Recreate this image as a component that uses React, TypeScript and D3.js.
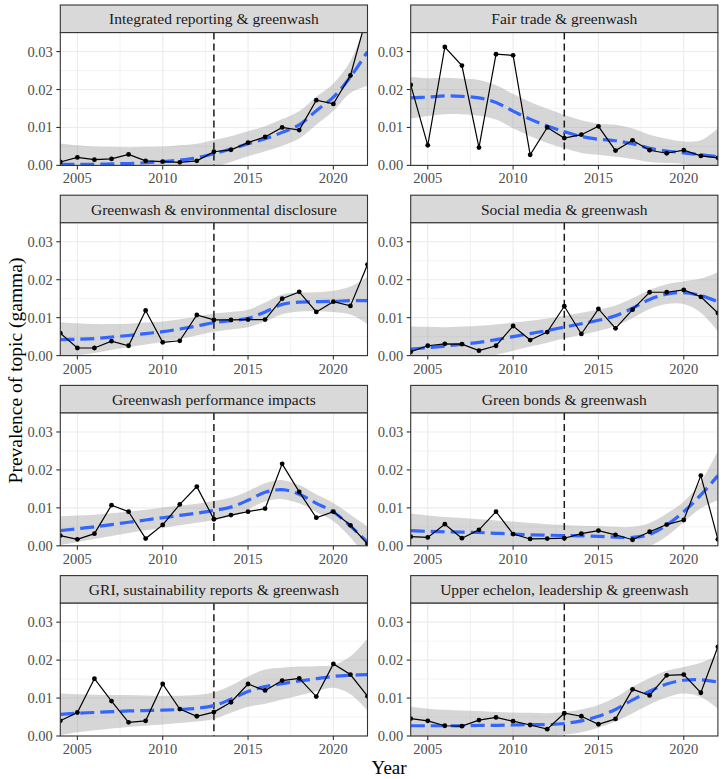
import * as d3 from 'd3'

// Topic prevalence per year (gamma), the loess fit and its standard-error half width
const years = [2004, 2005, 2006, 2007, 2008, 2009, 2010, 2011, 2012, 2013, 2014, 2015, 2016, 2017, 2018, 2019, 2020, 2021, 2022]

const integratedValues = [0.0009, 0.0021, 0.0015, 0.0017, 0.0029, 0.0012, 0.001, 0.0008, 0.0012, 0.0036, 0.0041, 0.006, 0.0075, 0.01, 0.0093, 0.0172, 0.0162, 0.0237, 0.04]
const integratedFit = [0.0003, 0.0003, 0.0003, 0.0004, 0.0005, 0.0007, 0.001, 0.0014, 0.002, 0.0031, 0.0043, 0.0057, 0.007, 0.0087, 0.0107, 0.0144, 0.018, 0.0233, 0.03]
const integratedSe = [0.0055, 0.005, 0.0047, 0.0045, 0.0043, 0.0042, 0.004, 0.0039, 0.0037, 0.0036, 0.0034, 0.0033, 0.0033, 0.0035, 0.0036, 0.0037, 0.0036, 0.0042, 0.009]

const fairTradeValues = [0.0212, 0.0053, 0.0312, 0.0263, 0.0047, 0.0293, 0.029, 0.0028, 0.01, 0.0072, 0.0081, 0.0103, 0.0039, 0.0066, 0.004, 0.0032, 0.004, 0.0025, 0.002]
const fairTradeFit = [0.0178, 0.018, 0.0183, 0.0182, 0.0178, 0.0166, 0.0143, 0.0122, 0.0104, 0.0089, 0.0076, 0.0069, 0.0065, 0.0057, 0.0045, 0.0038, 0.0033, 0.0028, 0.0023]
const fairTradeSe = [0.0055, 0.005, 0.0048, 0.0047, 0.0047, 0.0045, 0.0045, 0.0045, 0.0045, 0.0044, 0.0043, 0.0041, 0.0042, 0.004, 0.0036, 0.0032, 0.003, 0.0038, 0.0075]

const disclosureValues = [0.0059, 0.002, 0.002, 0.0038, 0.0026, 0.0119, 0.0035, 0.0039, 0.0107, 0.0094, 0.0094, 0.0095, 0.0095, 0.015, 0.0168, 0.0115, 0.0142, 0.0131, 0.024]
const disclosureFit = [0.0042, 0.0043, 0.0045, 0.0049, 0.0053, 0.0058, 0.0063, 0.007, 0.0078, 0.0087, 0.0092, 0.0098, 0.0115, 0.0135, 0.0141, 0.0142, 0.0143, 0.0145, 0.0145]
const disclosureSe = [0.0046, 0.0042, 0.0038, 0.0034, 0.0031, 0.0029, 0.0027, 0.0026, 0.0025, 0.0024, 0.0023, 0.0023, 0.0025, 0.0026, 0.0025, 0.0025, 0.0028, 0.0037, 0.0062]

const socialValues = [0.001, 0.0026, 0.0031, 0.003, 0.0013, 0.0026, 0.0078, 0.0041, 0.0062, 0.013, 0.0057, 0.0123, 0.0072, 0.0121, 0.0167, 0.0167, 0.0173, 0.0155, 0.0112]
const socialFit = [0.0017, 0.0021, 0.0025, 0.003, 0.0035, 0.0042, 0.005, 0.0058, 0.0066, 0.0075, 0.0084, 0.0093, 0.0105, 0.0125, 0.0148, 0.0162, 0.0166, 0.0158, 0.0142]
const socialSe = [0.006, 0.0055, 0.005, 0.0047, 0.0044, 0.004, 0.0037, 0.0034, 0.0032, 0.003, 0.0029, 0.0028, 0.0027, 0.0026, 0.0025, 0.0026, 0.003, 0.0045, 0.0078]

const performanceValues = [0.0027, 0.0017, 0.0032, 0.0107, 0.009, 0.0019, 0.0055, 0.0109, 0.0156, 0.007, 0.0081, 0.009, 0.0098, 0.0216, 0.0142, 0.0074, 0.009, 0.0054, 0.0005]
const performanceFit = [0.004, 0.0045, 0.005, 0.0056, 0.0062, 0.0068, 0.0074, 0.008, 0.0086, 0.0093, 0.0102, 0.012, 0.0141, 0.0148, 0.0136, 0.0112, 0.0089, 0.0052, 0.0009]
const performanceSe = [0.0038, 0.0035, 0.0032, 0.003, 0.0028, 0.0027, 0.0027, 0.0026, 0.0025, 0.0025, 0.0025, 0.0024, 0.0024, 0.0025, 0.0024, 0.0023, 0.0024, 0.003, 0.0042]

const bondsValues = [0.0024, 0.0022, 0.0057, 0.002, 0.0042, 0.009, 0.0031, 0.0018, 0.0019, 0.002, 0.0032, 0.004, 0.0029, 0.0016, 0.0037, 0.0056, 0.0068, 0.0185, 0.0017]
const bondsFit = [0.004, 0.0038, 0.0037, 0.0036, 0.0035, 0.0033, 0.0031, 0.0029, 0.0028, 0.0027, 0.0026, 0.0025, 0.0023, 0.0022, 0.003, 0.0055, 0.009, 0.0134, 0.0185]
const bondsSe = [0.0045, 0.0042, 0.0039, 0.0037, 0.0035, 0.0034, 0.0033, 0.0031, 0.0029, 0.0028, 0.0027, 0.0027, 0.0027, 0.0028, 0.003, 0.003, 0.0027, 0.0035, 0.0065]

const griValues = [0.004, 0.0062, 0.0151, 0.0092, 0.0036, 0.004, 0.0137, 0.0071, 0.0052, 0.0063, 0.0089, 0.0137, 0.012, 0.0146, 0.0152, 0.0104, 0.019, 0.0162, 0.0105]
const griFit = [0.0057, 0.006, 0.0062, 0.0064, 0.0066, 0.0067, 0.0068, 0.007, 0.0073, 0.008, 0.0097, 0.0117, 0.013, 0.0138, 0.0145, 0.0151, 0.0157, 0.016, 0.0162]
const griSe = [0.0055, 0.005, 0.0047, 0.0044, 0.0042, 0.004, 0.0038, 0.0036, 0.0035, 0.0035, 0.0036, 0.004, 0.0045, 0.0042, 0.0038, 0.0033, 0.003, 0.005, 0.0095]

const echelonValues = [0.0046, 0.004, 0.0027, 0.0026, 0.0042, 0.0049, 0.0039, 0.0029, 0.0018, 0.006, 0.0052, 0.0031, 0.0045, 0.0123, 0.0107, 0.016, 0.0162, 0.0114, 0.0235]
const echelonFit = [0.0027, 0.0027, 0.0027, 0.0027, 0.0028, 0.0028, 0.0029, 0.003, 0.003, 0.0033, 0.004, 0.0052, 0.007, 0.0095, 0.0118, 0.0137, 0.0147, 0.0148, 0.0142]
const echelonSe = [0.005, 0.0045, 0.0042, 0.004, 0.0038, 0.0035, 0.0033, 0.0031, 0.003, 0.003, 0.003, 0.003, 0.0032, 0.0035, 0.0035, 0.0035, 0.0035, 0.0045, 0.007]

const xTicks = [2005, 2010, 2015, 2020]
const xMinor = [2007.5, 2012.5, 2017.5]
const yTicks = [0, 0.01, 0.02, 0.03]
const yMinor = [0.005, 0.015, 0.025]
const breakYear = 2013

const panels = [
  { title: 'Integrated reporting & greenwash', values: integratedValues, fit: integratedFit, se: integratedSe },
  { title: 'Fair trade & greenwash', values: fairTradeValues, fit: fairTradeFit, se: fairTradeSe },
  { title: 'Greenwash & environmental disclosure', values: disclosureValues, fit: disclosureFit, se: disclosureSe },
  { title: 'Social media & greenwash', values: socialValues, fit: socialFit, se: socialSe },
  { title: 'Greenwash performance impacts', values: performanceValues, fit: performanceFit, se: performanceSe },
  { title: 'Green bonds & greenwash', values: bondsValues, fit: bondsFit, se: bondsSe },
  { title: 'GRI, sustainability reports & greenwash', values: griValues, fit: griFit, se: griSe },
  { title: 'Upper echelon, leadership & greenwash', values: echelonValues, fit: echelonFit, se: echelonSe },
]

const W = 723
const H = 779
const colLeft = [60.3, 410.7]
const panelW = 307.2
const firstStrip = 5
const rowStep = 190.2
const stripH = 27.6
const panelH = 132.8
const font = "'Liberation Serif', 'Times New Roman', serif"

const x = d3.scaleLinear().domain([2004, 2022]).range([0, panelW])
const y = d3.scaleLinear().domain([0, 0.035]).range([panelH, 0])

function Panel({ p, idx }: { p: (typeof panels)[number]; idx: number }) {
  const col = idx % 2
  const row = Math.floor(idx / 2)
  const left = colLeft[col]
  const stripTop = firstStrip + row * rowStep
  const top = stripTop + stripH

  const pts = years.map((yr, i) => ({ yr, v: p.values[i], f: p.fit[i], s: p.se[i] }))
  const line = d3.line<(typeof pts)[number]>().x((d) => x(d.yr)).y((d) => y(d.v))
  const fitLine = d3
    .line<(typeof pts)[number]>()
    .x((d) => x(d.yr))
    .y((d) => y(d.f))
    .curve(d3.curveCatmullRom)
  const band = d3
    .area<(typeof pts)[number]>()
    .x((d) => x(d.yr))
    .y0((d) => y(d.f - d.s))
    .y1((d) => y(d.f + d.s))
    .curve(d3.curveCatmullRom)
  const clipId = `clip-${idx}`

  return (
    <g>
      {/* strip */}
      <rect x={left} y={stripTop} width={panelW} height={stripH} fill="#D9D9D9" stroke="#333333" strokeWidth={1.1} />
      <text
        x={left + panelW / 2}
        y={stripTop + stripH / 2}
        textAnchor="middle"
        dominantBaseline="central"
        fontSize={15.5}
        fill="#1A1A1A"
      >
        {p.title}
      </text>

      <g transform={`translate(${left},${top})`}>
        <clipPath id={clipId}>
          <rect width={panelW} height={panelH} />
        </clipPath>
        <rect width={panelW} height={panelH} fill="#fff" />
        <g stroke="#EBEBEB">
          {xMinor.map((t) => (
            <line key={`xm${t}`} x1={x(t)} x2={x(t)} y1={0} y2={panelH} strokeWidth={0.6} />
          ))}
          {yMinor.map((t) => (
            <line key={`ym${t}`} x1={0} x2={panelW} y1={y(t)} y2={y(t)} strokeWidth={0.6} />
          ))}
          {xTicks.map((t) => (
            <line key={`x${t}`} x1={x(t)} x2={x(t)} y1={0} y2={panelH} strokeWidth={1.1} />
          ))}
          {yTicks.map((t) => (
            <line key={`y${t}`} x1={0} x2={panelW} y1={y(t)} y2={y(t)} strokeWidth={1.1} />
          ))}
        </g>

        <g clipPath={`url(#${clipId})`}>
          <path d={band(pts) || ''} fill="#999999" fillOpacity={0.4} />
          <line
            x1={x(breakYear)}
            x2={x(breakYear)}
            y1={0}
            y2={panelH}
            stroke="#1A1A1A"
            strokeWidth={1.5}
            strokeDasharray="7 4"
          />
          <path d={fitLine(pts) || ''} fill="none" stroke="#3366FF" strokeWidth={3.2} strokeDasharray="14 6" />
          <path d={line(pts) || ''} fill="none" stroke="#000" strokeWidth={1.2} />
          {pts.map((d) => (
            <circle key={d.yr} cx={x(d.yr)} cy={y(d.v)} r={2.4} fill="#000" />
          ))}
        </g>

        <rect width={panelW} height={panelH} fill="none" stroke="#333333" strokeWidth={1.1} />

        {/* axes */}
        {yTicks.map((t) => (
          <g key={`yt${t}`} transform={`translate(0,${y(t)})`}>
            <line x1={-4} x2={0} stroke="#333333" strokeWidth={1.1} />
            <text x={-7.5} textAnchor="end" dominantBaseline="central" fontSize={14.5} fill="#4D4D4D">
              {d3.format('.2f')(t)}
            </text>
          </g>
        ))}
        {xTicks.map((t) => (
          <g key={`xt${t}`} transform={`translate(${x(t)},${panelH})`}>
            <line y1={0} y2={4} stroke="#333333" strokeWidth={1.1} />
            <text y={18} textAnchor="middle" fontSize={14.5} fill="#4D4D4D">
              {t}
            </text>
          </g>
        ))}
      </g>
    </g>
  )
}

export default function App() {
  const plotBottom = firstStrip + 3 * rowStep + stripH + panelH
  return (
    <svg
      width={W}
      height={H}
      viewBox={`0 0 ${W} ${H}`}
      style={{ position: 'absolute', left: 0, top: 0, background: '#fff', fontFamily: font }}
    >
      <rect width={W} height={H} fill="#fff" />
      {panels.map((p, i) => (
        <Panel key={p.title} p={p} idx={i} />
      ))}
      <text
        transform={`translate(15,${(firstStrip + plotBottom) / 2}) rotate(-90)`}
        textAnchor="middle"
        dominantBaseline="central"
        fontSize={19.5}
        fill="#000"
      >
        Prevalence of topic (gamma)
      </text>
      <text x={(colLeft[0] + colLeft[1] + panelW) / 2} y={774} textAnchor="middle" fontSize={19} fill="#000">
        Year
      </text>
    </svg>
  )
}
